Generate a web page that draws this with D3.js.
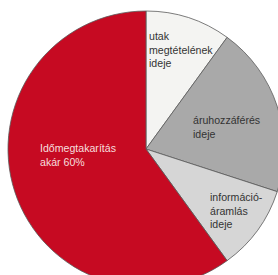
<!DOCTYPE html>
<html><head><meta charset="utf-8">
<script src="https://cdn.jsdelivr.net/npm/d3@7"></script>
<style>html,body{margin:0;padding:0;background:#fff;}svg{display:block;}</style>
</head><body>
<svg id="chart" width="278" height="275"></svg>
<script>
const categories = ["utak megtételének ideje", "áruhozzáférés ideje", "információáramlás ideje", "Időmegtakarítás akár 60%"];
const values = [10, 20, 10, 60];
const labelLines = [
  ["utak", "megtételének", "ideje"],
  ["áruhozzáférés", "ideje"],
  ["információ-", "áramlás", "ideje"],
  ["Időmegtakarítás", "akár 60%"]
];
const colors = ["#f4f4f2", "#a9a9a9", "#d6d6d6", "#c60a22"];
const textColors = ["#333", "#333", "#333", "#f6dede"];

const cx = 146, cy = 149, r = 138;
// label anchor offsets (layout only)
const labelOffsets = [[3, -109], [47, -25], [64, 52], [-106, 3]];

const svg = d3.select("#chart");
const g = svg.append("g").attr("transform", `translate(${cx},${cy})`);
const pie = d3.pie().sort(null).value(d => d)(values);
const arc = d3.arc().innerRadius(0).outerRadius(r);
const color = d3.scaleOrdinal().domain(categories).range(colors);

g.selectAll("path").data(pie).join("path")
  .attr("d", arc)
  .attr("fill", (d, i) => color(categories[i]))
  .attr("stroke", "#5a5a5a")
  .attr("stroke-width", 0.8);

labelLines.forEach((lines, i) => {
  const t = g.append("text")
    .attr("x", labelOffsets[i][0]).attr("y", labelOffsets[i][1])
    .attr("fill", textColors[i])
    .style("font-family", "'Liberation Sans', Arial, sans-serif")
    .style("font-size", "10.6px");
  lines.forEach((ln, j) => {
    t.append("tspan").attr("x", labelOffsets[i][0]).attr("dy", j === 0 ? 0 : 13.5).text(ln);
  });
});
</script>
</body></html>
